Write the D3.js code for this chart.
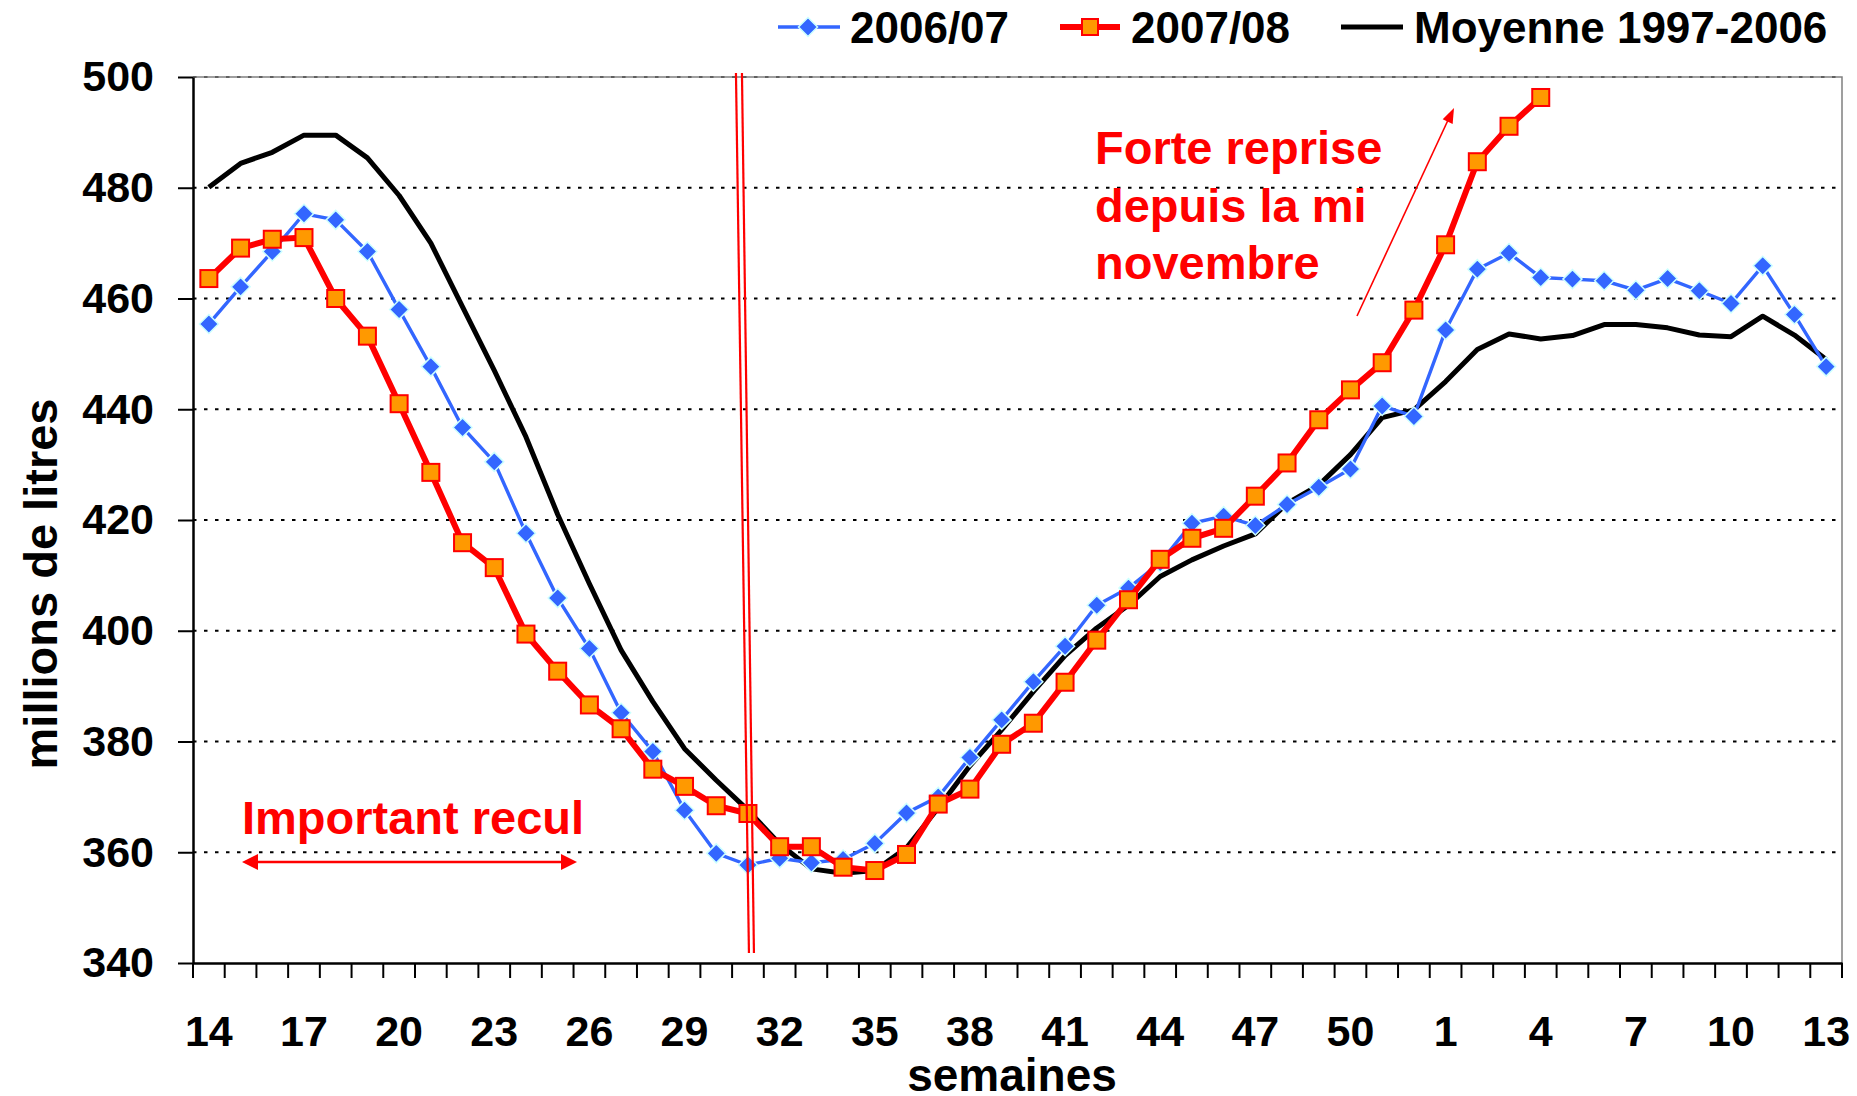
<!DOCTYPE html>
<html>
<head>
<meta charset="utf-8">
<script src="https://cdn.jsdelivr.net/npm/d3@7"></script>
<style>
    body { margin: 0; background: #fff; }
    svg text { font-family: "Liberation Sans", Arial, sans-serif; font-weight: bold; }
</style>
</head>
<body>
<div id="vis"></div>
<script>
// Weeks of the campaign (starts at week 14, wraps after week 52)
var weeks = [14, 15, 16, 17, 18, 19, 20, 21, 22, 23, 24, 25, 26, 27, 28, 29, 30, 31, 32, 33,
    34, 35, 36, 37, 38, 39, 40, 41, 42, 43, 44, 45, 46, 47, 48, 49, 50, 51, 52,
    1, 2, 3, 4, 5, 6, 7, 8, 9, 10, 11, 12, 13];
var tickWeeks = [14, 17, 20, 23, 26, 29, 32, 35, 38, 41, 44, 47, 50, 1, 4, 7, 10, 13];
var yTicks = [340, 360, 380, 400, 420, 440, 460, 480, 500];

// millions de litres, one value per week
var serie0607 = [455.4, 462.1, 468.5, 475.3, 474.2, 468.5, 458.0, 447.7, 436.7, 430.5,
    417.6, 405.9, 396.8, 385.2, 378.2, 367.6, 359.8, 357.7, 358.9, 358.1,
    358.7, 361.6, 367.1, 370.0, 377.1, 383.9, 390.8, 397.2, 404.6, 407.7,
    412.3, 419.4, 420.7, 419.0, 422.8, 425.9, 429.2, 440.6, 438.7,
    454.3, 465.3, 468.2, 463.8, 463.5, 463.2, 461.5, 463.6, 461.4, 459.1, 465.9, 457.1, 447.7];
var serie0708 = [463.6, 469.1, 470.7, 471.0, 460.0, 453.2, 441.0, 428.6, 415.9, 411.4,
    399.4, 392.7, 386.6, 382.3, 375.0, 371.9, 368.4, 367.0, 361.0, 361.0,
    357.3, 356.7, 359.6, 368.7, 371.4, 379.5, 383.3, 390.7, 398.3, 405.6,
    412.9, 416.7, 418.5, 424.3, 430.3, 438.1, 443.5, 448.4, 457.9,
    469.7, 484.7, 491.1, 496.3];
var moyenne = [480.1, 484.4, 486.4, 489.5, 489.5, 485.4, 478.6, 470.0, 458.5, 447.0,
    435.0, 421.0, 408.5, 396.5, 387.2, 378.7, 373.0, 367.6, 361.5, 357.0,
    356.2, 356.7, 360.8, 368.0, 375.6, 382.1, 389.0, 395.5, 400.5, 404.6,
    409.8, 412.8, 415.3, 417.5, 423.0, 426.3, 431.8, 438.5, 439.9,
    445.0, 450.8, 453.6, 452.7, 453.3, 455.3, 455.3, 454.7, 453.4, 453.1, 456.8, 453.4, 449.0];

// Graph margin settings
var margin = { top: 77, right: 15, bottom: 133, left: 193 };
var width = 1857;
var height = 1096;
var drawWidth = width - margin.left - margin.right;
var drawHeight = height - margin.top - margin.bottom;

var svg = d3.select('#vis')
    .append('svg')
    .attr('width', width)
    .attr('height', height);

var g = svg.append('g')
    .attr('transform', `translate(${margin.left},${margin.top})`);

/************************************** Scales ***************************************/
var xScale = d3.scaleBand()
    .domain(weeks)
    .range([0, drawWidth])
    .padding(0);
var xc = w => xScale(w) + xScale.bandwidth() / 2;

var yScale = d3.scaleLinear()
    .domain([340, 500])
    .range([drawHeight, 0]);

/************************************** Grid and frame ***************************************/
g.selectAll('.grid')
    .data(yTicks.filter(d => d > 340))
    .enter().append('line')
    .attr('class', 'grid')
    .attr('x1', 0).attr('x2', drawWidth)
    .attr('y1', d => yScale(d)).attr('y2', d => yScale(d))
    .attr('stroke', '#000')
    .attr('stroke-width', 2)
    .attr('stroke-dasharray', '3.5,7.5');

// plot area border (top / right)
g.append('path')
    .attr('d', `M0,${yScale(500)}H${drawWidth}V${yScale(340)}`)
    .attr('fill', 'none')
    .attr('stroke', '#808080')
    .attr('stroke-width', 1.5);

/************************************** Axes ***************************************/
var yAxis = d3.axisLeft(yScale)
    .tickValues(yTicks)
    .tickSizeInner(15)
    .tickSizeOuter(0)
    .tickPadding(24);

var yAxisG = g.append('g').call(yAxis);
yAxisG.selectAll('text').style('font-size', '43px').attr('fill', '#000');
yAxisG.selectAll('line').attr('stroke-width', 2);
yAxisG.select('.domain').attr('stroke-width', 2.5);

var xAxis = d3.axisBottom(xScale)
    .tickValues(tickWeeks)
    .tickSizeInner(0)
    .tickSizeOuter(0);

var xAxisG = g.append('g')
    .attr('transform', `translate(0,${drawHeight})`)
    .call(xAxis);
xAxisG.selectAll('text')
    .style('font-size', '43px')
    .attr('fill', '#000')
    .attr('y', 83)
    .attr('dy', 0);
xAxisG.select('.domain').attr('stroke-width', 2.5);

// tick marks between categories
xAxisG.selectAll('.btick')
    .data(weeks.concat(['end']))
    .enter().append('line')
    .attr('class', 'btick')
    .attr('x1', d => d === 'end' ? xScale.range()[1] : xScale(d))
    .attr('x2', d => d === 'end' ? xScale.range()[1] : xScale(d))
    .attr('y1', 0).attr('y2', 15)
    .attr('stroke', '#000')
    .attr('stroke-width', 2);

// axis titles
svg.append('text')
    .attr('transform', `translate(57,${margin.top + 507}) rotate(-90)`)
    .attr('text-anchor', 'middle')
    .style('font-size', '47px')
    .text('millions de litres');

svg.append('text')
    .attr('x', 1012).attr('y', 1091)
    .attr('text-anchor', 'middle')
    .style('font-size', '46px')
    .text('semaines');

/************************************** Series ***************************************/
var line = d3.line()
    .x((d, i) => xc(weeks[i]))
    .y(d => yScale(d));

var diamond = r => `M0,${-r}L${r},0L0,${r}L${-r},0Z`;

// moyenne 1997-2006
g.append('path')
    .datum(moyenne)
    .attr('d', line)
    .attr('fill', 'none')
    .attr('stroke', '#000')
    .attr('stroke-width', 5)
    .attr('stroke-linejoin', 'round');

// 2006/07
g.append('path')
    .datum(serie0607)
    .attr('d', line)
    .attr('fill', 'none')
    .attr('stroke', '#3366FF')
    .attr('stroke-width', 3.4);

g.selectAll('.m0607')
    .data(serie0607)
    .enter().append('path')
    .attr('class', 'm0607')
    .attr('transform', (d, i) => `translate(${xc(weeks[i])},${yScale(d)})`)
    .attr('d', diamond(9.5))
    .attr('fill', '#3366FF')
    .attr('stroke', '#CCFFFF')
    .attr('stroke-width', 1.5);

// 2007/08
g.append('path')
    .datum(serie0708)
    .attr('d', line)
    .attr('fill', 'none')
    .attr('stroke', '#FF0000')
    .attr('stroke-width', 6);

g.selectAll('.m0708')
    .data(serie0708)
    .enter().append('rect')
    .attr('class', 'm0708')
    .attr('x', (d, i) => xc(weeks[i]) - 8.5)
    .attr('y', d => yScale(d) - 8.5)
    .attr('width', 17).attr('height', 17)
    .attr('fill', '#FF9900')
    .attr('stroke', '#FF0000')
    .attr('stroke-width', 2);

/************************************** Annotations ***************************************/
var red = '#FF0000';

function arrowHead(x1, y1, x2, y2, len, hw) {
    var a = Math.atan2(y2 - y1, x2 - x1);
    var bx = x2 - len * Math.cos(a), by = y2 - len * Math.sin(a);
    var px = -Math.sin(a) * hw, py = Math.cos(a) * hw;
    svg.append('path')
        .attr('d', `M${x2},${y2}L${bx + px},${by + py}L${bx - px},${by - py}Z`)
        .attr('fill', red);
}

// double vertical line at week 31
[[-12, 1], [-6, 6]].forEach(function(o) {
    g.append('line')
        .attr('x1', xc(31) + o[0]).attr('y1', yScale(500) - 4)
        .attr('x2', xc(31) + o[1]).attr('y2', yScale(341.8))
        .attr('stroke', red)
        .attr('stroke-width', 2.2);
});

// "Important recul"
svg.append('text')
    .attr('x', 242).attr('y', 834)
    .attr('fill', red)
    .style('font-size', '47px')
    .text('Important recul');

svg.append('line')
    .attr('x1', 252).attr('y1', 862).attr('x2', 567).attr('y2', 862)
    .attr('stroke', red).attr('stroke-width', 2.5);
arrowHead(577, 862, 242, 862, 16, 8);
arrowHead(242, 862, 577, 862, 16, 8);

// "Forte reprise depuis la mi novembre"
var noteLines = ['Forte reprise', 'depuis la mi', 'novembre'];
svg.selectAll('.note')
    .data(noteLines)
    .enter().append('text')
    .attr('class', 'note')
    .attr('x', 1095)
    .attr('y', (d, i) => 164 + i * 57.6)
    .attr('fill', red)
    .style('font-size', '47px')
    .text(d => d);

svg.append('line')
    .attr('x1', 1357).attr('y1', 316).attr('x2', 1449).attr('y2', 118)
    .attr('stroke', red).attr('stroke-width', 1.6);
arrowHead(1357, 316, 1454, 108, 15, 5.5);

/************************************** Legend ***************************************/
var legend = svg.append('g');

legend.append('line')
    .attr('x1', 778).attr('x2', 840).attr('y1', 27).attr('y2', 27)
    .attr('stroke', '#3366FF').attr('stroke-width', 3.4);
legend.append('path')
    .attr('transform', 'translate(808,27)')
    .attr('d', diamond(9.5))
    .attr('fill', '#3366FF').attr('stroke', '#CCFFFF').attr('stroke-width', 1.5);
legend.append('text').attr('x', 850).attr('y', 43).style('font-size', '44px').text('2006/07');

legend.append('line')
    .attr('x1', 1060).attr('x2', 1120).attr('y1', 27).attr('y2', 27)
    .attr('stroke', '#FF0000').attr('stroke-width', 6);
legend.append('rect')
    .attr('x', 1082).attr('y', 19).attr('width', 16).attr('height', 16)
    .attr('fill', '#FF9900').attr('stroke', '#FF0000').attr('stroke-width', 2);
legend.append('text').attr('x', 1131).attr('y', 43).style('font-size', '44px').text('2007/08');

legend.append('line')
    .attr('x1', 1341).attr('x2', 1403).attr('y1', 27).attr('y2', 27)
    .attr('stroke', '#000').attr('stroke-width', 5);
legend.append('text').attr('x', 1414).attr('y', 43).style('font-size', '44px').text('Moyenne 1997-2006');
</script>
</body>
</html>
